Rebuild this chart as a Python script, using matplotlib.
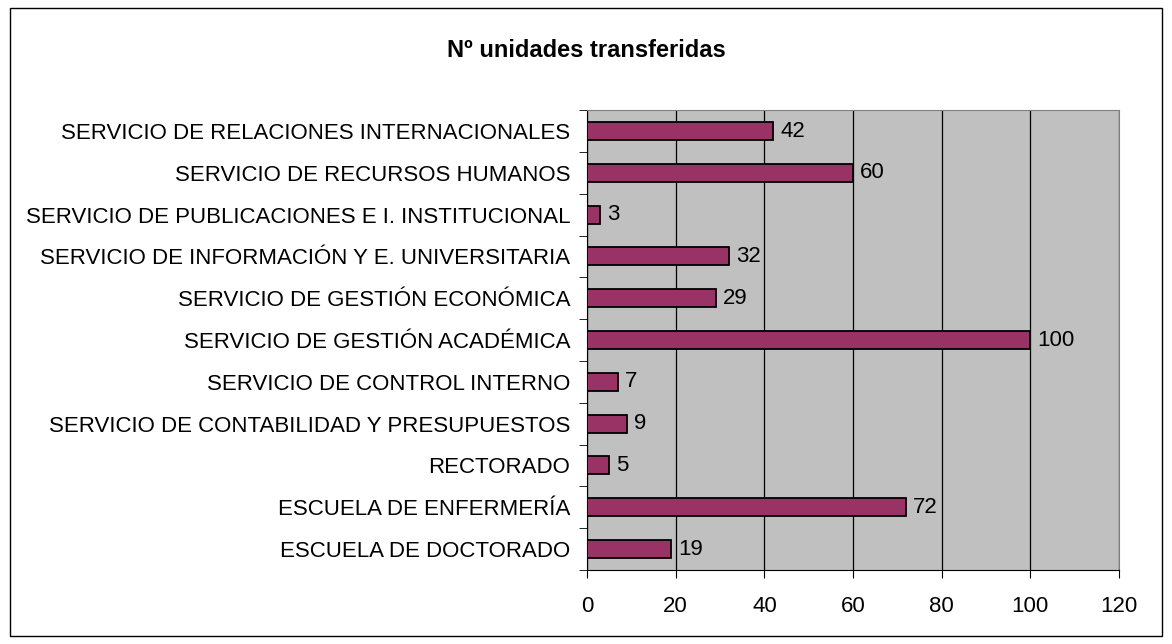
import matplotlib.pyplot as plt
import matplotlib.patches as patches
import numpy as np

plt.rcParams['font.family'] = ['Liberation Sans', 'DejaVu Sans']

# Unidades (de arriba a abajo, como en el gráfico)
unidades = [
    'SERVICIO DE RELACIONES INTERNACIONALES',
    'SERVICIO DE RECURSOS HUMANOS',
    'SERVICIO DE PUBLICACIONES E I. INSTITUCIONAL',
    'SERVICIO DE INFORMACIÓN Y E. UNIVERSITARIA',
    'SERVICIO DE GESTIÓN ECONÓMICA',
    'SERVICIO DE GESTIÓN ACADÉMICA',
    'SERVICIO DE CONTROL INTERNO',
    'SERVICIO DE CONTABILIDAD Y PRESUPUESTOS',
    'RECTORADO',
    'ESCUELA DE ENFERMERÍA',
    'ESCUELA DE DOCTORADO',
]
transferidas = [42, 60, 3, 32, 29, 100, 7, 9, 5, 72, 19]
ticks_x = [0, 20, 40, 60, 80, 100, 120]

fig = plt.figure(figsize=(11.72, 6.44), dpi=100)
ax = fig.add_axes([0.5009, 0.115, 0.4539, 0.714])

n = len(unidades)
y = np.arange(n)[::-1]
ax.barh(y, transferidas, height=0.43, color='#993366', edgecolor='black', linewidth=1.3, zorder=3)

for yi, v in zip(y, transferidas):
    ax.text(v + 1.6, yi, str(v), va='center', ha='left', fontsize=16, zorder=4)

ax.set_facecolor('#C0C0C0')
ax.set_xlim(0, 120)
ax.set_ylim(-0.5, n - 0.5)
ax.set_xticks(ticks_x)
ax.set_xticklabels([str(t) for t in ticks_x], fontsize=16)
ax.set_yticks(y)
ax.set_yticklabels(unidades, fontsize=16)
ax.tick_params(axis='y', length=0, pad=12)
ax.set_yticks(np.arange(n + 1) - 0.5, minor=True)
ax.tick_params(axis='y', which='minor', length=6, direction='out')
ax.tick_params(axis='x', length=6, direction='out', pad=13)
ax.grid(axis='x', color='black', linewidth=0.9, zorder=1)
for s in ['top', 'right']:
    ax.spines[s].set_color('#808080')
ax.spines['left'].set_color('black')
ax.spines['bottom'].set_color('black')

fig.text(0.5, 0.922, 'Nº unidades transferidas', ha='center', va='center',
         fontsize=17, fontweight='bold')

fig.patches.append(patches.Rectangle((0.0085, 0.0125), 0.983, 0.975, transform=fig.transFigure,
                                     fill=False, edgecolor='black', linewidth=1))

fig.savefig('out.png', dpi=100)
